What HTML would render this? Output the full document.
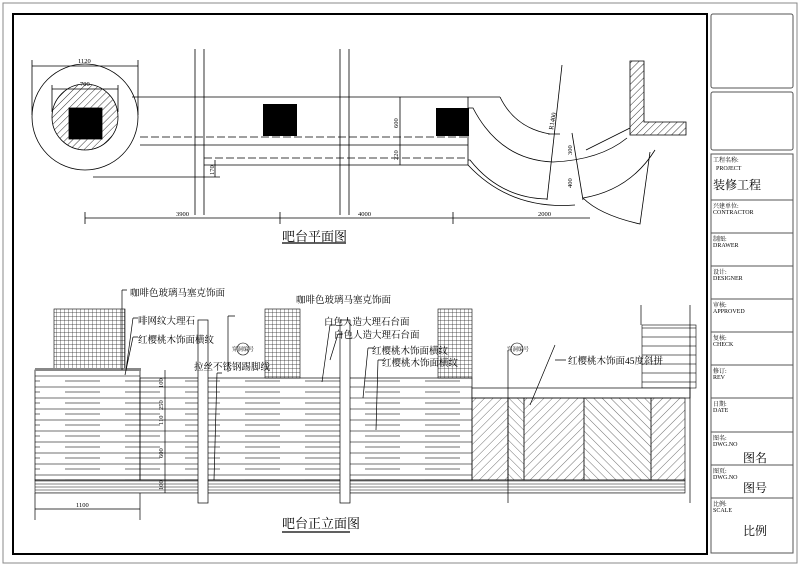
<!DOCTYPE html>
<html><head><meta charset="utf-8"><style>
body{margin:0;background:#fff}
svg{display:block;font-family:"Liberation Serif","Noto Serif CJK SC","Noto Sans CJK SC",serif}
</style></head><body>
<svg width="800" height="567" viewBox="0 0 800 567" xmlns="http://www.w3.org/2000/svg">
<defs>
<pattern id="hat" width="5" height="5" patternUnits="userSpaceOnUse" patternTransform="rotate(45)"><line x1="0" y1="0" x2="0" y2="5" stroke="#333" stroke-width="1"/></pattern>
<pattern id="grid" width="4" height="4" patternUnits="userSpaceOnUse"><path d="M0 0H4M0 0V4" stroke="#222" stroke-width="0.7" fill="none"/></pattern>
<pattern id="hz" width="60" height="11" patternUnits="userSpaceOnUse"><path d="M0 2H60M5 7H40" stroke="#444" stroke-width="0.8"/></pattern>
<pattern id="hzr" width="8" height="9" patternUnits="userSpaceOnUse"><line x1="0" y1="4" x2="8" y2="4" stroke="#444" stroke-width="0.8"/></pattern>
<pattern id="dense" width="6" height="3" patternUnits="userSpaceOnUse"><line x1="0" y1="1" x2="6" y2="1" stroke="#333" stroke-width="0.6"/></pattern>
<pattern id="d1" width="6" height="6" patternUnits="userSpaceOnUse" patternTransform="rotate(45)"><line x1="0" y1="0" x2="0" y2="6" stroke="#333" stroke-width="0.7"/></pattern>
<pattern id="d2" width="6" height="6" patternUnits="userSpaceOnUse" patternTransform="rotate(-45)"><line x1="0" y1="0" x2="0" y2="6" stroke="#333" stroke-width="0.7"/></pattern>
</defs>
<rect x="3" y="3" width="794" height="560" fill="none" stroke="#888" stroke-width="1"/>
<rect x="13" y="14" width="694" height="540" fill="none" stroke="#000" stroke-width="2"/>
<g fill="none" stroke="#555" stroke-width="1">
<rect x="711" y="14" width="82" height="74" rx="2"/>
<rect x="711" y="92" width="82" height="58" rx="2"/>
<rect x="711" y="154" width="82" height="399"/>
<path d="M711 200H793M711 233H793M711 266H793M711 299H793M711 332H793M711 365H793M711 398H793M711 432H793M711 465H793M711 498H793"/>
</g>
<g font-size="6" fill="#000">
<text x="713" y="162">工程名称:</text><text x="716" y="170">PROJECT</text>
<text x="713" y="208">兴建单位:</text><text x="713" y="214">CONTRACTOR</text>
<text x="713" y="241">制图:</text><text x="713" y="247">DRAWER</text>
<text x="713" y="274">设计:</text><text x="713" y="280">DESIGNER</text>
<text x="713" y="307">审核:</text><text x="713" y="313">APPROVED</text>
<text x="713" y="340">复核:</text><text x="713" y="346">CHECK</text>
<text x="713" y="373">修订:</text><text x="713" y="379">REV</text>
<text x="713" y="406">日期:</text><text x="713" y="412">DATE</text>
<text x="713" y="440">图名:</text><text x="713" y="446">DWG.NO</text>
<text x="713" y="473">图页:</text><text x="713" y="479">DWG.NO</text>
<text x="713" y="506">比例:</text><text x="713" y="512">SCALE</text>
</g>
<g font-size="12"><text x="713" y="189">装修工程</text><text x="743" y="462">图名</text><text x="743" y="492">图号</text><text x="743" y="535">比例</text></g>

<g stroke="#000" fill="none" stroke-width="0.8">
<circle cx="85" cy="117" r="53"/>
<circle cx="85" cy="117" r="33" fill="url(#hat)"/>
<rect x="69" y="108" width="33" height="31" fill="#000"/>
<path d="M32 66H138M32 60V115M138 60V115M52 89H118M52 85V112M118 85V112"/>
<path d="M195 49V215M204 49V215M340 49V215M349 49V215"/>
<path d="M132 97H500M140 145H468M204 165H468M93 177H220M400 97V165M468 97V165M215 160V177"/>
<path d="M140 137H468M204 158H468" stroke-dasharray="8 3"/>
<path d="M468 108L473 108Q500 160 553 162Q600 160 627 138M500 97Q515 128 550 134M468 160L470 160Q500 198 547 199M583 198Q630 190 655 150M468 165Q510 210 575 205"/>
<path d="M583 198Q600 215 640 224L650 152"/>
<path d="M562 65L547 200M572 133L583 200M548 134L560 134M586 150L630 128"/>
<path d="M85 218H590M85 212V224M280 212V224M453 212V224"/>
<path d="M282 243H346" stroke-width="1.2"/>
</g>
<rect x="263" y="104" width="34" height="32"/>
<rect x="436" y="108" width="33" height="28"/>
<path d="M630 61H644V122H686V135H630Z" fill="url(#hat)" stroke="#000" stroke-width="0.8"/>
<g font-size="6.5"><text x="78" y="63">1120</text><text x="80" y="86">700</text><text x="176" y="216">3900</text><text x="358" y="216">4000</text><text x="538" y="216">2000</text>
<text transform="translate(398,128) rotate(-90)">600</text><text transform="translate(398,160) rotate(-90)">220</text><text transform="translate(214,175) rotate(-90)">170</text>
<text transform="translate(553,130) rotate(-80)">R1400</text><text transform="translate(572,155) rotate(-90)">300</text><text transform="translate(572,188) rotate(-90)">400</text></g>
<text x="282" y="241" font-size="13">吧台平面图</text>

<rect x="54" y="309" width="71" height="61" fill="url(#grid)" stroke="#000" stroke-width="0.6"/>
<rect x="265" y="309" width="35" height="69" fill="url(#grid)" stroke="#000" stroke-width="0.6"/>
<rect x="438" y="309" width="34" height="69" fill="url(#grid)" stroke="#000" stroke-width="0.6"/>
<rect x="642" y="325" width="54" height="63" fill="url(#hzr)" stroke="#000" stroke-width="0.6"/>
<rect x="35" y="370" width="105" height="110" fill="url(#hz)" stroke="#000" stroke-width="0.7"/>
<rect x="140" y="378" width="332" height="102" fill="url(#hz)" stroke="#000" stroke-width="0.7"/>
<rect x="35" y="368" width="106" height="3" fill="#888"/>
<rect x="472" y="388" width="218" height="10" fill="#fff" stroke="#000" stroke-width="0.7"/>
<rect x="472" y="398" width="36" height="82" fill="url(#d1)" stroke="#000" stroke-width="0.6"/>
<rect x="508" y="398" width="16" height="82" fill="url(#d2)" stroke="#000" stroke-width="0.6"/>
<rect x="524" y="398" width="60" height="82" fill="url(#d1)" stroke="#000" stroke-width="0.6"/>
<rect x="584" y="398" width="67" height="82" fill="url(#d2)" stroke="#000" stroke-width="0.6"/>
<rect x="651" y="398" width="34" height="82" fill="url(#d1)" stroke="#000" stroke-width="0.6"/>
<rect x="35" y="480" width="650" height="13" fill="url(#dense)" stroke="#000" stroke-width="0.6"/>
<rect x="198" y="320" width="10" height="183" fill="#fff" stroke="#000" stroke-width="0.7"/>
<rect x="340" y="320" width="10" height="183" fill="#fff" stroke="#000" stroke-width="0.7"/>
<g stroke="#000" fill="none" stroke-width="0.7">
<path d="M690 305V503M641 305V325M508 350V503"/>
<path d="M35 493V520M140 493V520M35 509H140M165 370V493"/>
<path d="M122 290V370M133 318L126 370M133 337L125 375M217 373L214 480M228 316V372M330 325L322 382M338 334L330 360M368 348L363 398M378 360L376 430M555 345L530 405"/>
<path d="M122 290H127M133 318H138M133 337H138M217 373H222M330 325H335M338 334H343M368 348H373M378 360H383M555 360H566M228 316H235"/>
<path d="M282 532H350" stroke-width="1.2"/>
</g>
<circle cx="243" cy="349" r="6" fill="#fff" stroke="#000" stroke-width="0.6"/>
<circle cx="517" cy="349" r="6" fill="#fff" stroke="#000" stroke-width="0.6"/>
<g font-size="9.5">
<text x="130" y="296">咖啡色玻璃马塞克饰面</text>
<text x="296" y="303">咖啡色玻璃马塞克饰面</text>
<text x="138" y="324">啡网纹大理石</text>
<text x="138" y="343">红樱桃木饰面横纹</text>
<text x="324" y="325">白色人造大理石台面</text>
<text x="334" y="338">白色人造大理石台面</text>
<text x="372" y="354">红樱桃木饰面横纹</text>
<text x="382" y="366">红樱桃木饰面横纹</text>
<text x="194" y="370">拉丝不锈钢踢脚线</text>
<text x="568" y="364">红樱桃木饰面45度斜拼</text>
</g>
<g font-size="5.5"><text x="232" y="351">穿洞编号</text><text x="507" y="351">穿洞编号</text></g>
<g font-size="6.5"><text x="76" y="507">1100</text>
<text transform="translate(163,388) rotate(-90)">100</text><text transform="translate(163,410) rotate(-90)">250</text><text transform="translate(163,425) rotate(-90)">110</text><text transform="translate(163,458) rotate(-90)">600</text><text transform="translate(163,490) rotate(-90)">100</text></g>
<text x="282" y="528" font-size="13">吧台正立面图</text>
</svg>
</body></html>
